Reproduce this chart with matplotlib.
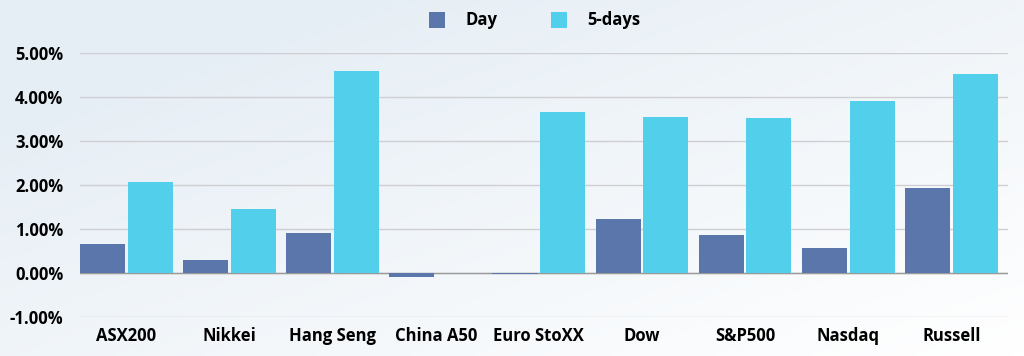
import numpy as np
import matplotlib.pyplot as plt
from matplotlib.colors import LinearSegmentedColormap

indices = ["ASX200", "Nikkei", "Hang Seng", "China A50", "Euro StoXX",
           "Dow", "S&P500", "Nasdaq", "Russell"]
day = [0.66, 0.30, 0.91, -0.08, -0.02, 1.23, 0.87, 0.57, 1.93]
five_days = [2.07, 1.45, 4.59, -0.01, 3.66, 3.55, 3.52, 3.91, 4.52]
yticks = [-1, 0, 1, 2, 3, 4, 5]

c_day = "#5A76AA"
c_five = "#52CFEA"

plt.rcParams['font.family'] = ['Open Sans', 'DejaVu Sans']

fig = plt.figure(figsize=(10.24, 3.56), dpi=100)

# soft background gradient
bg = fig.add_axes([0, 0, 1, 1], zorder=-10)
gx, gy = np.meshgrid(np.linspace(0, 1, 200), np.linspace(0, 1, 100))
grad = np.clip(0.6 * (1 - gx) + 0.6 * (1 - gy), 0, 1)
cmap = LinearSegmentedColormap.from_list("bg", ["#FFFFFF", "#E6EEF5"])
bg.imshow(grad, cmap=cmap, aspect="auto", extent=[0, 1, 0, 1], origin="upper")
bg.axis("off")

ax = fig.add_axes([80 / 1024, 1 - 317 / 356, 928 / 1024, 264 / 356])
ax.patch.set_alpha(0)

x = np.arange(len(indices))
w = 0.437
gap = 0.026
ax.bar(x - w / 2 - gap / 2, day, w, color=c_day, label="Day", zorder=3)
ax.bar(x + w / 2 + gap / 2, five_days, w, color=c_five, label="5-days", zorder=3)

ax.set_xlim(-0.45, len(indices) - 0.45)
ax.set_ylim(-1, 5)
ax.set_yticks(yticks)
ax.set_yticklabels([f"{v:.2f}%" for v in yticks], fontweight="bold", fontsize=12)
ax.set_xticks(x)
ax.set_xticklabels(indices, fontweight="bold", fontsize=12)
ax.tick_params(axis="y", length=0, pad=12)
ax.tick_params(axis="x", length=0, pad=7)
ax.grid(axis="y", color="#CFCFD3", linewidth=1, zorder=0)
ax.axhline(0, color="#9A9A9A", linewidth=1, zorder=2)
for s in ax.spines.values():
    s.set_visible(False)

fig.legend(loc="upper center", bbox_to_anchor=(0.522, 1.01), ncol=2, frameon=False,
           prop={"weight": "bold", "size": 12}, handlelength=1.0, handleheight=1.1,
           columnspacing=3.2, handletextpad=1.2)

fig.savefig("out.png", dpi=100)
